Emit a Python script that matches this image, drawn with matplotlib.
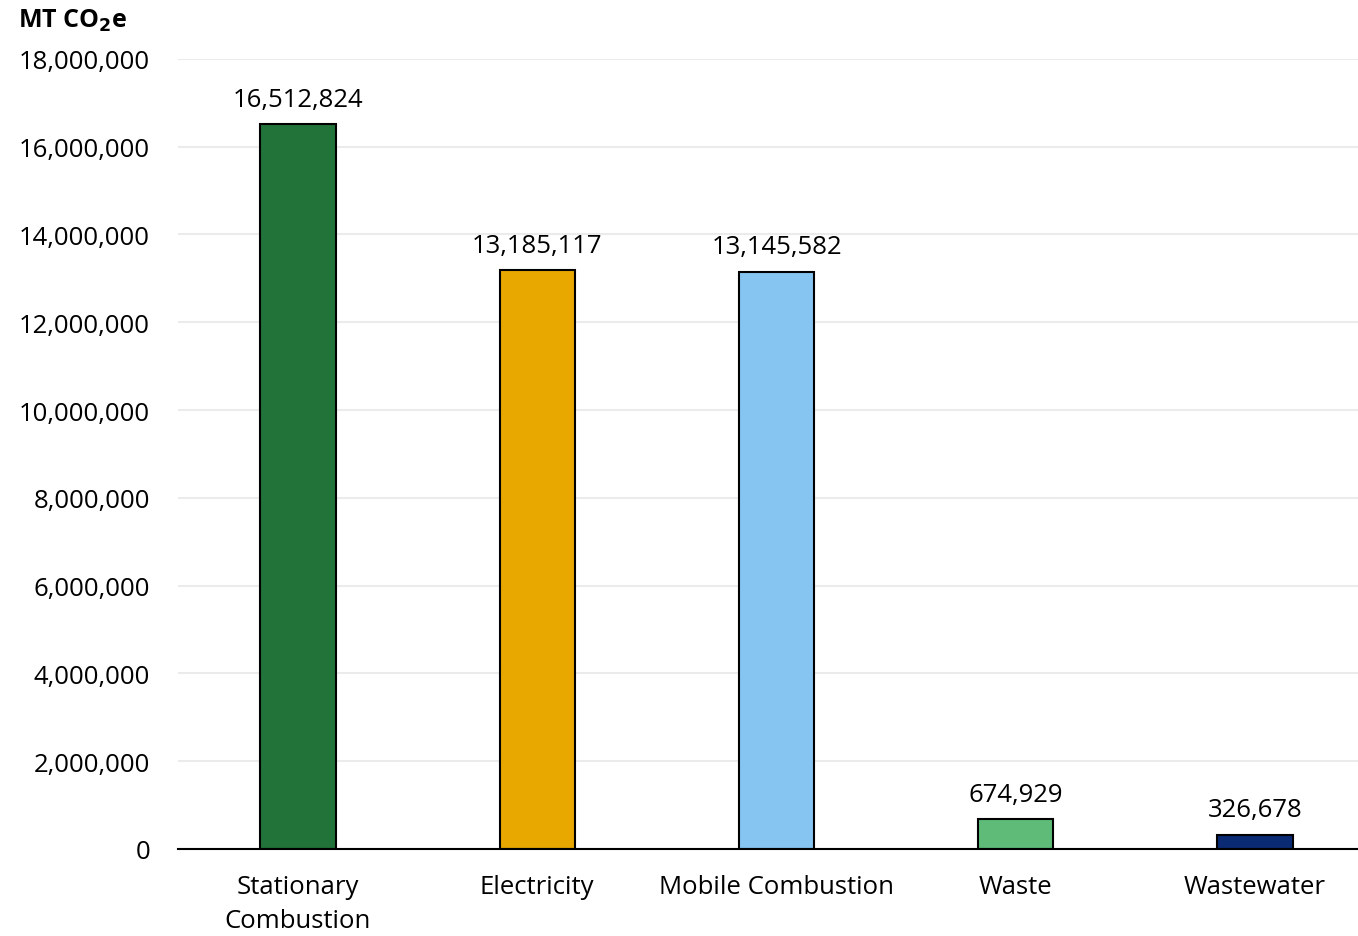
import numpy as np
import matplotlib
matplotlib.use('Agg')
import matplotlib.pyplot as plt
from matplotlib.ticker import FuncFormatter

# emissions by sector, MT CO2e
sectors = ['Stationary\nCombustion', 'Electricity', 'Mobile Combustion', 'Waste', 'Wastewater']
emissions = [16512824, 13185117, 13145582, 674929, 326678]
colors = ['#21733A', '#E8A800', '#86C5F1', '#5EBC78', '#0B2A74']
yticks = [0, 2000000, 4000000, 6000000, 8000000, 10000000, 12000000, 14000000, 16000000, 18000000]

plt.rcParams['font.family'] = ['Open Sans', 'DejaVu Sans']

fig = plt.figure(figsize=(13.58, 9.37), dpi=100)
ax = fig.add_axes([0.131, 0.093, 0.869, 0.843])

x = np.arange(len(sectors))
ax.bar(x, emissions, width=0.315, color=colors, edgecolor='black', linewidth=1.5, zorder=3)

for xi, v in zip(x, emissions):
    ax.annotate('{:,}'.format(v), (xi, v), xytext=(0, 9), textcoords='offset points',
                ha='center', va='bottom', fontsize=18.5)

ax.set_ylim(0, 18000000)
ax.set_xlim(-0.5016, 4.43)
ax.set_yticks(yticks)
ax.yaxis.set_major_formatter(FuncFormatter(lambda v, p: '{:,}'.format(int(v))))
ax.set_xticks(x)
ax.set_xticklabels(sectors, linespacing=1.5)
ax.tick_params(axis='both', length=0, labelsize=18.5)
ax.tick_params(axis='y', pad=20)
ax.tick_params(axis='x', pad=18)
ax.grid(axis='y', color='#EBEBEB', linewidth=1.5, zorder=0)
for s in ['top', 'right', 'left']:
    ax.spines[s].set_visible(False)
ax.spines['bottom'].set_linewidth(1.5)
ax.spines['bottom'].set_zorder(4)

fig.text(0.013, 0.978, r'MT CO$_\mathbf{2}$e', fontsize=18, fontweight='bold', va='center', ha='left')

fig.savefig('out.png', dpi=100)
